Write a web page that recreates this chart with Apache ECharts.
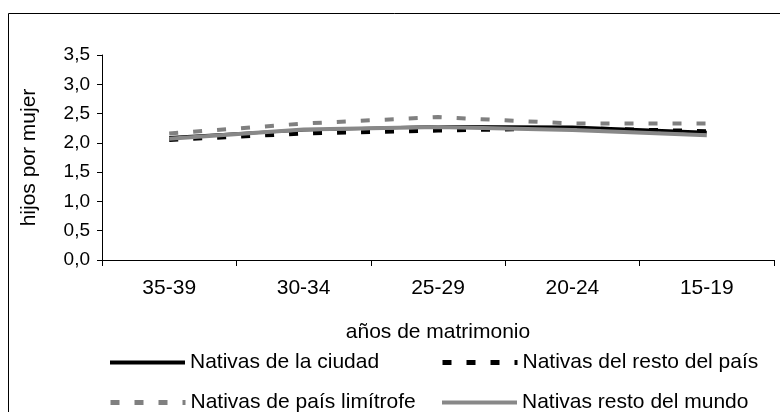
<!DOCTYPE html>
<html>
<head>
<meta charset="utf-8">
<script src="https://cdn.jsdelivr.net/npm/echarts@6/dist/echarts.min.js"></script>
<style>
html,body{margin:0;padding:0;background:#fff;}
#chart{width:780px;height:412px;}
</style>
</head>
<body>
<div id="chart"></div>
<script>
const categories = ['35-39', '30-34', '25-29', '20-24', '15-19'];
const seriesNames = ['Nativas de la ciudad', 'Nativas del resto del país', 'Nativas de país limítrofe', 'Nativas resto del mundo'];
const ciudad = [2.09, 2.22, 2.28, 2.27, 2.18];
const restoPais = [2.05, 2.16, 2.21, 2.25, 2.20];
const limitrofe = [2.16, 2.33, 2.44, 2.33, 2.33];
const restoMundo = [2.07, 2.23, 2.27, 2.22, 2.13];
const yTicks = [0, 0.5, 1, 1.5, 2, 2.5, 3, 3.5];
const xAxisTitle = 'años de matrimonio';
const yAxisTitle = 'hijos por mujer';

const FONT = '"Liberation Sans", Arial, sans-serif';
const chart = echarts.init(document.getElementById('chart'));

function legendAt(name, left, top, width, dash) {
  return {
    data: [name], left: left, top: top, itemWidth: 75, itemHeight: 20, itemGap: 0,
    padding: 0, selectedMode: false,
    itemStyle: { opacity: 0 },
    lineStyle: { width: width, type: dash },
    textStyle: { fontFamily: FONT, fontSize: 21, color: '#000', padding: [0, 0, 0, 0] }
  };
}

chart.setOption({
  animation: false,
  backgroundColor: '#fff',
  graphic: [{
    type: 'rect', silent: true,
    shape: { x: 8.5, y: 13.5, width: 800, height: 500 },
    style: { fill: 'none', stroke: '#000', lineWidth: 1 }
  }],
  grid: { left: 102, top: 55, right: 6, bottom: 152, containLabel: false },
  legend: [
    legendAt(seriesNames[0], 108, 352, 4, 'solid'),
    legendAt(seriesNames[1], 440, 352, 5, [9, 15]),
    legendAt(seriesNames[2], 108, 392, 5, [9, 15]),
    legendAt(seriesNames[3], 440, 392, 4, 'solid')
  ],
  xAxis: {
    type: 'category', data: categories, boundaryGap: true,
    name: xAxisTitle, nameLocation: 'middle', nameGap: 62,
    nameTextStyle: { fontFamily: FONT, fontSize: 21, color: '#000' },
    axisLine: { lineStyle: { color: '#000', width: 1 } },
    axisTick: { show: true, length: 6, alignWithLabel: false, lineStyle: { color: '#000' } },
    axisLabel: { fontFamily: FONT, fontSize: 21, color: '#000', margin: 18 },
    splitLine: { show: false }
  },
  yAxis: {
    type: 'value', min: yTicks[0], max: yTicks[yTicks.length - 1], interval: 0.5,
    name: yAxisTitle, nameLocation: 'middle', nameGap: 62, nameRotate: 90,
    nameTextStyle: { fontFamily: FONT, fontSize: 21, color: '#000' },
    axisLine: { show: true, lineStyle: { color: '#000', width: 1 } },
    axisTick: { show: true, length: 5, lineStyle: { color: '#000' } },
    axisLabel: { fontFamily: FONT, fontSize: 19, color: '#000', margin: 12,
      formatter: v => v.toFixed(1).replace('.', ',') },
    splitLine: { show: false }
  },
  series: [
    { name: seriesNames[0], type: 'line', data: ciudad, symbol: 'none',
      itemStyle: { color: '#000' }, lineStyle: { color: '#000', width: 3 } },
    { name: seriesNames[1], type: 'line', data: restoPais, symbol: 'none',
      itemStyle: { color: '#000' }, lineStyle: { color: '#000', width: 4, type: [9, 15] } },
    { name: seriesNames[2], type: 'line', data: limitrofe, symbol: 'none',
      itemStyle: { color: '#808080' }, lineStyle: { color: '#808080', width: 4, type: [9, 15] } },
    { name: seriesNames[3], type: 'line', data: restoMundo, symbol: 'none',
      itemStyle: { color: '#888888' }, lineStyle: { color: '#888888', width: 4 } }
  ]
});
</script>
</body>
</html>
